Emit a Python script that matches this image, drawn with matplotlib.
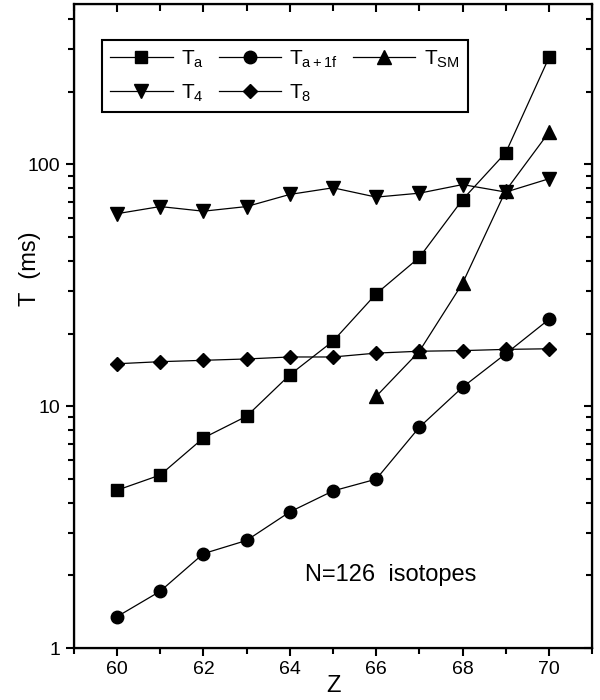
import matplotlib
matplotlib.use("Agg")
import matplotlib.pyplot as plt
from matplotlib.ticker import LogLocator, NullFormatter, MultipleLocator

plt.rcParams['font.family'] = ['Liberation Sans', 'DejaVu Sans']
plt.rcParams['mathtext.fontset'] = 'custom'
plt.rcParams['mathtext.rm'] = 'Liberation Sans'
plt.rcParams['mathtext.it'] = 'Liberation Sans'

Z = [60, 61, 62, 63, 64, 65, 66, 67, 68, 69, 70]
T_a = [4.5, 5.2, 7.4, 9.1, 13.5, 18.6, 29.2, 41.3, 71.6, 112, 277]
T_a1f = [1.35, 1.72, 2.46, 2.79, 3.66, 4.47, 5.0, 8.2, 12.0, 16.5, 22.9]
Z_SM = [66, 67, 68, 69, 70]
T_SM = [11.0, 16.9, 32.3, 78, 136]
T_4 = [62.6, 67.0, 64.1, 67.0, 75.2, 80.1, 73.3, 76.1, 82.6, 76.9, 87.3]
T_8 = [15.0, 15.3, 15.5, 15.7, 16.0, 16.0, 16.6, 16.9, 17.0, 17.2, 17.3]


def main():
    fig = plt.figure(figsize=(6, 7), dpi=100)
    ax = fig.add_axes([0.123, 0.074, 0.864, 0.92])

    kw = dict(color='black', lw=0.9)
    h_a, = ax.plot(Z, T_a, marker='s', ms=8.5, label=r'T$_{\rm a}$', **kw)
    h_4, = ax.plot(Z, T_4, marker='v', ms=9.5, label=r'T$_{\rm 4}$', **kw)
    h_1f, = ax.plot(Z, T_a1f, marker='o', ms=9, label=r'T$_{\rm a+1f}$', **kw)
    h_8, = ax.plot(Z, T_8, marker='D', ms=7.5, label=r'T$_{\rm 8}$', **kw)
    h_sm, = ax.plot(Z_SM, T_SM, marker='^', ms=9.5, label=r'T$_{\rm SM}$', **kw)

    ax.set_yscale('log')
    ax.set_xlim(59, 71)
    ax.set_ylim(1, 460)
    ax.set_xticks([60, 62, 64, 66, 68, 70])
    ax.xaxis.set_minor_locator(MultipleLocator(1))
    ax.set_yticks([1, 10, 100])
    ax.set_yticklabels(['1', '10', '100'])
    ax.yaxis.set_minor_locator(LogLocator(base=10, subs=range(2, 10)))
    ax.yaxis.set_minor_formatter(NullFormatter())

    ax.tick_params(which='both', direction='out', width=1.5, labelsize=14)
    ax.tick_params(which='major', length=6)
    ax.tick_params(which='minor', length=4)
    for s in ax.spines.values():
        s.set_linewidth(1.6)

    # inward ticks on the top and right side
    axr = ax.twinx()
    axr.set_yscale('log')
    axr.set_ylim(ax.get_ylim())
    axr.set_yticks([1, 10, 100])
    axr.yaxis.set_minor_locator(LogLocator(base=10, subs=range(2, 10)))
    axr.tick_params(which='both', direction='in', width=1.5, labelright=False)
    axr.tick_params(which='major', length=6)
    axr.tick_params(which='minor', length=4)
    axt = ax.twiny()
    axt.set_xlim(ax.get_xlim())
    axt.set_xticks([60, 62, 64, 66, 68, 70])
    axt.xaxis.set_minor_locator(MultipleLocator(1))
    axt.tick_params(which='both', direction='in', width=1.5, labeltop=False)
    axt.tick_params(which='major', length=6)
    axt.tick_params(which='minor', length=5)

    ax.set_xlabel('Z', fontsize=17)
    ax.xaxis.set_label_coords(0.5, -0.058)
    ax.xaxis.label.set_va('center')
    ax.set_ylabel('T  (ms)', fontsize=17)
    ax.yaxis.set_label_coords(-0.085, 0.59)
    ax.yaxis.label.set_va('center')

    ax.text(0.446, 0.113, 'N=126  isotopes', transform=ax.transAxes,
            fontsize=17, va='center', ha='left')

    leg = ax.legend(handles=[h_a, h_4, h_1f, h_8, h_sm], ncol=3,
                    loc='upper left', bbox_to_anchor=(0.054, 0.944),
                    borderaxespad=0, fontsize=15, handlelength=3.0,
                    handletextpad=0.4, columnspacing=0.7, fancybox=False,
                    edgecolor='black', framealpha=1, labelspacing=0.6)
    leg.get_frame().set_linewidth(1.5)

    fig.savefig('out.png', dpi=100)


if __name__ == "__main__":
    main()
